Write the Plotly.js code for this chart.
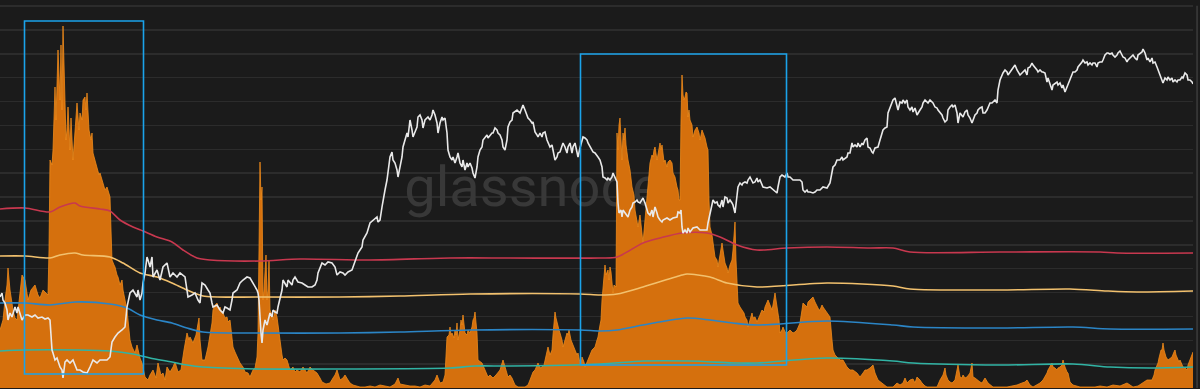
<!DOCTYPE html>
<html>
<head>
<meta charset="utf-8">
<script src="https://cdn.plot.ly/plotly-3.0.1.min.js"></script>
<style>
  html, body { margin: 0; padding: 0; background: #1b1b1b; }
  #chart { width: 1200px; height: 389px; }
</style>
</head>
<body>
<div id="chart"></div>
<script>
// x = day index, values in chart units
const orangeArea = [
[0,58],[3,68],[5,88],[7,103],[8,120],[10,98],[13,78],[15,70],[17,68],[19,88],[22,113],[25,108],[28,88],[31,98],[35,103],[38,93],[40,90],[43,98],[45,96],[48,93],[49,138],[50,228],[52,223],[53,238],[55,301],[56,268],[58,338],[60,288],[61,343],[62,278],[63,362],[64,328],[65,305],[66,248],[67,258],[68,281],[70,238],[71,270],[73,228],[75,261],[76,273],[77,285],[79,258],[80,275],[82,268],[83,288],[85,291],[86,278],[87,295],[88,278],[89,258],[91,248],[92,255],[93,235],[95,228],[97,221],[99,213],[100,215],[102,208],[103,205],[105,198],[107,201],[109,193],[110,191],[111,158],[112,128],[114,123],[115,121],[117,113],[118,111],[120,103],[122,108],[123,98],[125,88],[127,78],[128,68],[130,48],[132,41],[135,35],[137,43],[138,38],[140,30],[142,25],[145,11],[148,8],[150,13],[153,18],[156,10],[158,25],[161,13],[163,15],[165,8],[167,21],[170,16],
[173,21],[175,26],[178,16],[181,18],[184,38],[187,55],[189,48],[190,51],[193,45],[196,53],[199,70],[200,48],[202,28],[205,28],[208,41],[210,53],[212,65],[213,78],[215,83],[217,85],[219,78],[220,81],[222,75],[223,75],[225,70],[227,71],[228,66],[230,68],[232,53],[233,41],[235,36],[237,31],[240,25],[243,21],[245,16],[248,15],[250,11],[253,18],[255,20],[257,31],[258,55],[259,138],[260,226],[261,188],[262,201],[263,88],[264,98],[266,133],[267,88],[268,98],[269,128],[270,78],[272,73],[273,68],[275,78],[277,71],[279,58],[280,48],[282,33],[283,28],[285,30],[287,28],[290,18],[293,21],[295,16],[297,18],[300,16],[303,21],[307,15],[310,21],[313,18],[317,15],[320,10],[322,6],[326,4],[330,5],[333,10],[335,13],[337,18],[340,8],
[343,10],[345,13],[348,8],[350,5],[353,3],[357,2],[360,1],[365,1],[370,2],[375,1],[380,3],[385,2],[390,1],[395,4],[398,10],[400,4],[405,3],[410,2],[415,2],[420,1],[425,3],[430,2],[435,8],[437,13],[440,5],[443,6],[445,13],[446,38],[447,51],[449,53],[450,61],[451,53],[452,55],[454,50],[455,58],[456,53],[457,65],[458,48],[460,58],[461,68],[462,63],[463,73],[464,63],[465,55],[467,53],[468,58],[470,55],[472,61],[473,68],[474,70],[475,76],[476,63],[477,55],[478,28],[480,26],[482,25],[485,18],[488,11],[490,13],[493,10],[496,13],[498,15],[500,18],[503,28],[505,21],[508,11],[510,13],[512,10],
[515,3],[518,1],[525,1],[528,3],[530,8],[533,16],[535,18],[537,23],[538,25],[540,20],[542,21],[544,23],[545,28],[547,36],[548,41],[550,33],[552,38],[553,53],[554,68],[555,76],[556,70],[557,65],[559,58],[560,55],[562,48],[563,41],[565,48],[567,55],[568,53],[569,58],[571,48],[572,45],[574,41],[575,38],[577,33],[578,35],[580,25],[581,23],[582,31],[584,26],[585,21],[587,26],[588,28],[590,33],[592,38],[594,40],[595,41],[597,48],[598,51],[600,63],[601,68],[602,88],[603,98],[604,113],[605,123],[606,113],[608,118],[609,108],[610,121],[611,116],[612,105],[613,95],[614,103],[616,101],[617,255],[618,238],[619,263],[620,270],[621,248],[622,228],[623,255],[624,248],[625,260],[626,243],[628,228],[630,218],[632,201],[634,193],[635,178],[637,166],[638,161],[640,173],[642,155],[643,145],[645,168],[646,181],[648,201],[649,213],[650,225],[652,233],[653,231],[654,238],[655,241],[657,228],[658,233],[660,245],[661,238],[662,243],[664,226],[665,228],[667,221],[668,226],[670,228],[672,225],[673,215],[675,211],[677,201],[678,198],[679,188],[680,188],[681,268],[682,313],[683,293],
[684,288],[685,291],[686,296],[687,295],[688,271],[689,278],[690,268],[692,263],[693,251],[695,258],[697,261],[699,255],[700,248],[702,258],[703,255],[705,250],[707,241],[708,238],[709,188],[710,161],[712,153],[713,145],[714,138],[715,131],[717,128],[718,121],[720,133],[722,145],[723,138],[725,125],[727,120],[728,115],[730,123],[732,128],[733,138],[734,153],[735,166],[736,128],[737,105],[738,85],[740,81],[742,78],[744,75],[745,71],[747,68],[748,61],[750,68],[752,75],[753,70],[755,71],[757,66],[758,68],[760,73],[762,78],[764,76],[765,81],[767,85],[768,88],[770,83],[772,78],[773,83],[775,95],[776,88],[777,81],[779,68],[780,55],[782,58],[783,61],[785,56],[787,55],[790,58],[793,55],[795,56],[797,58],[800,65],[802,78],[803,85],[805,83],[807,81],[808,86],[810,88],[812,90],[813,91],[815,86],[817,81],[819,78],[820,78],[822,83],[823,81],[825,78],[827,75],[829,73],[830,71],[832,48],[833,38],[835,33],[837,31],[840,28],[843,28],[845,25],[847,21],[850,18],
[853,18],[857,15],[860,11],[863,15],[865,18],[867,18],[870,20],[873,23],[875,15],[878,8],[882,5],[885,3],[887,1],[893,1],[897,5],[900,3],[903,5],[905,10],[907,5],[910,8],[913,9],[915,5],[917,11],[920,8],[922,5],[925,2],[927,1],[937,1],[940,8],[943,13],[945,20],[946,13],[948,8],[950,6],[952,5],[955,8],[957,16],[958,23],[960,11],[962,10],[963,13],[965,10],[967,11],[970,15],[972,25],[973,11],[975,10],[977,8],[980,6],[982,5],[985,10],[988,5],[990,3],[993,1],[1000,1],[1007,1],[1012,2],[1017,3],[1022,5],
[1025,6],[1027,8],[1030,3],[1033,1],[1037,3],[1040,5],[1043,8],[1045,11],[1047,15],[1048,18],[1050,21],[1051,23],[1052,25],[1053,21],[1055,20],[1057,18],[1058,20],[1060,21],[1062,23],[1063,28],[1064,23],[1065,21],[1067,16],[1068,15],[1070,6],[1073,3],[1080,1],[1087,1],[1095,1],[1100,2],[1107,1],[1113,3],[1120,2],[1127,5],[1130,3],[1133,1],[1138,2],[1143,5],[1147,8],[1152,8],[1154,13],[1155,18],[1157,23],[1158,25],[1159,30],[1160,35],[1161,38],[1162,38],[1163,45],[1164,38],[1166,31],[1168,28],[1170,30],[1172,31],[1174,36],[1175,38],[1176,33],[1177,31],[1179,26],[1180,28],[1182,23],[1183,21],[1185,20],[1187,18],[1188,23],[1190,28],[1191,30],[1192,33],[1193,36]
];

const priceLine = [
[0,91],[2,95],[3,88],[5,85],[7,78],[8,68],[10,75],[12,71],[15,81],[17,75],[18,81],[22,68],[25,73],[28,73],[32,71],[35,73],[38,70],[42,71],[45,69],[48,70],[50,68],[52,38],[53,35],[55,28],[57,30],[60,21],[62,18],[63,10],[65,26],[67,28],[70,25],[73,28],[77,18],[80,18],[83,16],[87,15],[90,21],[93,28],[97,25],[100,28],[103,28],[107,28],[110,31],[112,46],[115,51],[118,55],[122,58],[125,61],[127,81],[128,86],[130,95],[133,98],[137,91],[138,98],[140,88],[142,95],[143,105],[145,115],[147,131],[148,128],[150,121],[152,131],[153,111],[157,118],[160,108],[163,121],[167,125],[170,111],
[173,115],[177,111],[180,115],[185,111],[187,95],[188,91],[192,93],[195,95],[198,88],[200,85],[202,105],[205,103],[208,98],[210,95],[212,85],[213,81],[217,83],[220,78],[223,75],[225,81],[227,80],[230,78],[232,88],[233,95],[237,98],[240,105],[243,108],[247,111],[250,110],[253,105],[257,98],[258,95],[259,88],[261,55],[262,45],[263,58],[265,68],[267,63],[268,68],[270,75],[272,71],[273,78],[275,76],[277,75],[278,81],[280,91],[282,98],[283,108],[285,105],[287,101],[288,108],[290,105],[292,103],[293,108],[295,111],[298,106],[302,105],[305,103],[308,101],[312,101],[315,103],[317,108],[318,115],[322,125],[325,123],[328,126],[332,125],[335,121],[337,113],[340,116],
[343,115],[345,113],[348,116],[352,118],[353,121],[355,125],[357,131],[358,135],[360,138],[362,141],[363,148],[365,151],[367,155],[370,165],[373,168],[377,171],[378,166],[380,168],[382,181],[383,188],[385,198],[387,208],[388,218],[390,231],[392,236],[393,228],[395,225],[397,218],[398,211],[400,221],[402,231],[403,241],[405,248],[407,255],[408,251],[410,268],[412,258],[413,251],[415,256],[417,261],[418,271],[420,273],[422,268],[423,260],[425,268],[427,270],[428,271],[430,268],[432,273],[433,278],[435,273],[437,265],[438,255],[440,265],[442,271],[443,268],[445,270],[447,255],[448,238],[450,231],[452,228],[453,231],[455,225],[457,231],[458,235],[460,225],[462,221],[463,228],[465,218],[467,225],[468,221],[470,225],[472,220],[473,215],[475,210],[477,221],[478,231],[480,238],[482,241],[483,248],[485,251],[487,253],[488,250],[490,253],[492,255],[493,255],[495,260],[497,258],[498,255],[500,253],[502,248],[503,241],[505,238],[507,248],[508,261],[510,266],[512,268],
[513,275],[517,278],[520,275],[523,283],[525,278],[527,271],[528,270],[530,268],[532,265],[533,266],[535,256],[537,253],[538,251],[540,255],[542,251],[543,255],[545,256],[547,248],[548,245],[550,241],[552,243],[553,238],[555,228],[557,231],[558,235],[560,236],[562,241],[563,245],[565,241],[567,235],[568,241],[570,245],[572,235],[573,241],[575,245],[577,235],[578,231],[580,240],[582,246],[583,251],[585,250],[587,248],[588,245],[590,241],[592,238],[593,236],[595,235],[597,233],[598,231],[600,228],[602,221],[603,211],[605,210],[607,208],[608,210],[610,208],[612,211],[613,215],[615,211],[617,206],[618,185],[619,175],[621,178],[622,171],[623,178],[625,175],[627,173],[628,171],[630,178],[632,181],[633,185],[635,186],[637,188],[638,186],[640,185],[642,188],[643,190],[645,185],[647,178],[648,175],[650,173],[652,178],[653,171],[655,181],[657,175],[658,171],[660,168],[662,166],[663,168],[667,170],[670,168],[673,170],[677,171],[678,176],[680,175],[681,178],
[682,161],[683,155],[685,158],[687,155],[688,160],[690,156],[693,160],[697,161],[700,158],[703,158],[707,158],[708,165],[710,175],[712,185],[713,188],[715,185],[717,186],[718,183],[720,181],[722,188],[723,181],[725,191],[727,190],[728,185],[730,188],[732,185],[733,183],[735,175],[737,195],[738,201],[740,205],[742,203],[743,205],[745,206],[747,205],[748,208],[750,211],[752,206],[753,205],[755,206],[757,210],[758,206],[760,208],[763,201],[767,200],[770,201],[773,198],[777,195],[778,201],[780,211],[782,213],[785,211],[787,215],[788,211],[790,211],[793,208],[797,208],[800,208],[802,206],[803,198],[805,196],[807,198],[808,196],[810,196],[813,195],[815,196],[817,198],[820,198],[823,201],[827,200],[830,205],[832,215],[833,221],[835,223],[837,228],[840,228],[842,231],[843,228],[847,231],[848,235],
[850,235],[852,245],[853,241],[855,243],[857,241],[858,245],[860,241],[862,245],[863,243],[865,248],[867,250],[868,241],[870,240],[872,236],[873,235],[875,240],[877,241],[878,241],[880,248],[882,255],[883,258],[885,260],[887,261],[888,275],[890,281],[892,285],[893,288],[895,290],[897,281],[898,278],[900,286],[902,285],[903,288],[905,285],[907,288],[908,281],[910,278],[912,281],[913,276],[915,280],[917,273],[918,275],[920,278],[922,281],[923,285],[925,288],[927,286],[928,285],[930,288],[932,286],[933,285],[935,281],[937,280],[938,278],[940,275],[942,273],[943,270],[945,266],[947,268],[948,278],[950,281],[952,283],[953,281],[955,283],[957,275],[958,265],[960,275],[962,273],[963,271],[965,276],[967,278],[968,273],[970,270],[972,265],[973,268],[975,273],[977,275],[978,278],[980,280],[982,281],[983,275],[985,275],[987,278],[988,281],[990,285],[992,285],[993,286],[995,288],[997,285],[998,298],[1000,308],[1002,313],[1003,315],[1005,318],[1007,316],[1008,313],[1010,316],[1012,318],[1013,320],[1015,323],[1017,318],[1018,316],[1020,313],[1022,315],
[1023,316],[1025,318],[1027,313],[1028,320],[1030,321],[1032,325],[1033,323],[1035,321],[1037,318],[1038,316],[1040,318],[1042,316],[1043,316],[1045,315],[1047,306],[1048,310],[1050,305],[1052,298],[1053,303],[1055,305],[1057,306],[1058,303],[1060,305],[1062,300],[1063,303],[1065,296],[1067,301],[1068,305],[1070,308],[1072,315],[1073,316],[1075,316],[1077,318],[1078,321],[1080,323],[1082,326],[1083,328],[1085,325],[1087,326],[1088,323],[1090,325],[1092,323],[1093,325],[1095,325],[1097,321],[1098,325],[1100,326],[1102,326],[1103,328],[1105,333],[1107,335],[1108,335],[1110,334],[1112,335],[1113,333],[1115,331],[1117,333],[1118,335],[1120,337],[1122,333],[1123,331],[1125,330],[1127,326],[1128,328],[1130,330],[1132,331],[1133,333],[1135,330],[1137,328],[1138,333],[1140,335],[1142,336],[1143,339],[1145,335],[1147,328],[1148,330],[1150,326],[1152,330],[1153,325],[1155,326],[1157,321],[1158,318],[1160,313],[1162,308],[1163,305],[1165,310],[1167,308],[1168,311],[1170,308],[1172,310],[1173,306],[1175,308],[1177,306],[1178,308],[1180,308],[1182,311],[1183,310],[1185,315],[1187,313],[1188,308],[1190,308],[1192,306],[1193,304]
];

const redBand = [[0,179],[25,180],[50,176],[60,181],[75,185],[80,182],[100,179],[110,177],[120,168],[133,161],[143,157],[157,151],[172,146],[183,138],[197,130],[210,128],[260,127],[300,129],[370,128],[450,130],[510,130],[600,130],[617,131],[643,145],[660,150],[682,155],[707,155],[720,151],[737,143],[757,138],[787,140],[827,141],[870,140],[893,140],[910,136],[1000,136],[1100,136],[1117,135],[1193,135]];
const yellowBand = [[0,132],[25,132],[50,130],[60,133],[75,135],[83,133],[110,131],[123,125],[140,115],[157,111],[172,105],[187,98],[203,92],[260,91],[340,91],[400,92],[470,94],[580,94],[600,93],[617,94],[643,101],[682,113],[687,114],[710,111],[727,105],[757,101],[827,105],[893,102],[910,99],[1000,98],[1070,99],[1107,97],[1137,96],[1193,97]];
const blueBand = [[0,85],[25,85],[50,83],[75,86],[110,84],[127,80],[140,73],[157,68],[172,65],[187,60],[203,56],[260,55],[340,55],[400,56],[470,58],[580,58],[600,57],[617,58],[643,63],[687,70],[710,68],[733,65],[757,63],[827,67],[893,63],[913,61],[1000,60],[1073,61],[1110,59],[1193,59]];
const tealBand = [[0,37],[25,38],[75,38],[110,37],[133,34],[150,30],[172,26],[187,23],[203,21],[260,19],[340,19],[450,20],[475,22],[510,22],[600,24],[643,27],[690,27],[737,25],[757,25],[827,30],[893,27],[913,25],[1000,23],[1073,24],[1110,21],[1150,20],[1193,21]];

const watermarkText = "glassnode";

const xs = a => a.map(p => p[0]);
const ys = a => a.map(p => p[1]);

const bandLine = (arr, color) => ({
  x: xs(arr), y: ys(arr), type: 'scatter', mode: 'lines',
  line: { color: color, width: 1.6, shape: 'spline', smoothing: 0.8 },
  hoverinfo: 'skip'
});

const data = [
  { x: [533], y: [196], type: 'scatter', mode: 'text', text: [watermarkText],
    textposition: 'middle center',
    textfont: { family: 'Roboto, "Open Sans", sans-serif', size: 56, color: '#383838', weight: 400 },
    hoverinfo: 'skip' },
  { x: xs(orangeArea), y: ys(orangeArea), type: 'scatter', mode: 'lines', fill: 'tozeroy',
    fillcolor: '#d5700d', line: { color: '#ef8a1a', width: 0.8 }, hoverinfo: 'skip' },
  bandLine(tealBand, '#31b3a4'),
  bandLine(blueBand, '#2b85c6'),
  bandLine(yellowBand, '#f2c16e'),
  bandLine(redBand, '#c8384f'),
  { x: xs(priceLine), y: ys(priceLine), type: 'scatter', mode: 'lines',
    line: { color: '#e9e9e9', width: 1.6 }, hoverinfo: 'skip' }
];

const layout = {
  width: 1200, height: 389,
  margin: { l: 0, r: 7, t: 0, b: 1, pad: 0 },
  paper_bgcolor: '#1b1b1b', plot_bgcolor: '#1b1b1b',
  showlegend: false,
  xaxis: { range: [0, 1193], showgrid: false, zeroline: false, showticklabels: false, ticks: '', showline: false, fixedrange: true },
  yaxis: { range: [0, 388], tick0: 0, dtick: 23.87, showgrid: true, gridcolor: '#2c2c2c', gridwidth: 1.5,
           zeroline: false, showticklabels: false, ticks: '', showline: false, fixedrange: true },
  shapes: [
    { type: 'rect', xref: 'x', yref: 'y', x0: 24.5, x1: 143.5, y0: 14, y1: 367,
      line: { color: '#1ba3ea', width: 1.6 }, fillcolor: 'rgba(0,0,0,0)' },
    { type: 'rect', xref: 'x', yref: 'y', x0: 580.5, x1: 786.5, y0: 23, y1: 334,
      line: { color: '#1ba3ea', width: 1.6 }, fillcolor: 'rgba(0,0,0,0)' },
    { type: 'line', xref: 'paper', yref: 'paper', x0: 1.0034, x1: 1.0034, y0: 0, y1: 0.985,
      line: { color: '#3c3c3c', width: 1.5 } }
  ]
};

Plotly.newPlot('chart', data, layout, { displayModeBar: false, staticPlot: true });
</script>
</body>
</html>
